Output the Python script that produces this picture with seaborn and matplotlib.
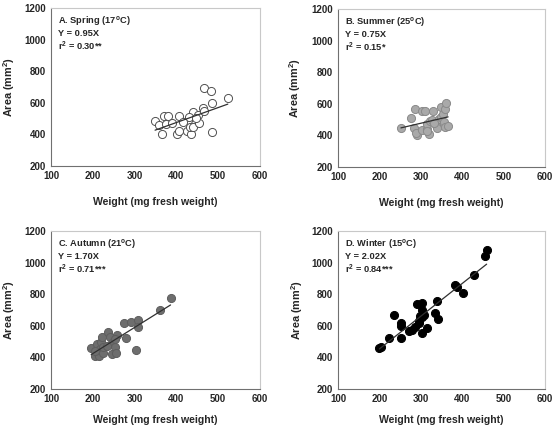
import numpy as np
import seaborn as sns
import matplotlib.pyplot as plt

# leaf weight (mg fresh weight) vs area (mm2), one season per panel
spring_w = [349, 359, 366, 371, 379, 374, 389, 407, 401, 406, 425, 427, 440, 435,
            433, 440, 430, 454, 452, 463, 466, 465, 483, 486, 485, 523, 416, 447]
spring_a = [485, 460, 401, 517, 519, 464, 475, 519, 401, 422, 422, 492, 540, 401,
            445, 449, 513, 470, 523, 570, 549, 693, 676, 597, 418, 629, 480, 505]

summer_w = [252, 276, 285, 283, 290, 288, 302, 311, 302, 315, 320, 314, 322, 328,
            329, 337, 344, 339, 348, 349, 353, 355, 358, 361, 359, 366, 314, 333]
summer_a = [449, 513, 570, 449, 405, 416, 553, 553, 433, 443, 411, 475, 490, 496,
            555, 468, 502, 447, 517, 580, 538, 485, 564, 606, 454, 462, 426, 480]

autumn_w = [196, 205, 209, 213, 217, 220, 222, 216, 225, 225, 237, 241, 247, 246,
            253, 256, 259, 252, 274, 279, 291, 304, 307, 308, 360, 386, 233, 205]
autumn_a = [459, 408, 483, 425, 453, 495, 526, 406, 429, 463, 558, 531, 488, 419,
            467, 431, 543, 514, 619, 524, 621, 450, 636, 594, 703, 779, 474, 440]

winter_w = [200, 203, 224, 236, 251, 253, 253, 271, 278, 287, 291, 297, 295, 296,
            302, 302, 303, 304, 308, 314, 335, 339, 342, 383, 387, 402, 428, 456, 459]
winter_a = [457, 463, 520, 667, 619, 598, 524, 568, 575, 594, 739, 663, 632, 617,
            653, 552, 743, 701, 669, 589, 680, 760, 642, 857, 846, 808, 922, 1042, 1080]

titles = ["A. Spring (17$^{o}$C)\nY = 0.95X\nr$^{2}$ = 0.30**",
          "B. Summer (25$^{o}$C)\nY = 0.75X\nr$^{2}$ = 0.15*",
          "C. Autumn (21$^{o}$C)\nY = 1.70X\nr$^{2}$ = 0.71***",
          "D. Winter (15$^{o}$C)\nY = 2.02X\nr$^{2}$ = 0.84***"]

sns.set_style("white")
plt.rcParams['font.family'] = ['Liberation Sans', 'DejaVu Sans']
plt.rcParams['font.weight'] = 'bold'
plt.rcParams['mathtext.fontset'] = 'custom'
plt.rcParams['mathtext.rm'] = 'Liberation Sans:bold'
plt.rcParams['mathtext.bf'] = 'Liberation Sans:bold'
plt.rcParams['mathtext.default'] = 'rm'

fig = plt.figure(figsize=(5.55, 4.32), dpi=100)

panels = [
    (spring_w, spring_a, 'white', '#505050', [51, 8, 260, 166], -0.163, -0.196),
    (summer_w, summer_a, '#a9a9a9', '#8a8a8a', [338, 9, 545, 167], -0.17, -0.196),
    (autumn_w, autumn_a, '#6e6e6e', '#5e5e5e', [51, 231, 260, 389], -0.163, -0.165),
    (winter_w, winter_a, 'black', 'black', [338, 231, 545, 389], -0.16, -0.165),
]

for (w, a, fc, ec, box, ylx, xly), title in zip(panels, titles):
    l, t, r, b = box
    ax = fig.add_axes([l / 555, 1 - b / 432, (r - l) / 555, (b - t) / 432])
    sns.regplot(x=np.array(w), y=np.array(a), ax=ax, ci=None,
                scatter_kws=dict(s=34, facecolor=fc, edgecolor=ec, linewidths=0.7, alpha=1),
                line_kws=dict(color='#303030', lw=0.9))
    ax.set_xlim(100, 600)
    ax.set_ylim(200, 1200)
    ax.set_xticks([100, 200, 300, 400, 500, 600])
    ax.set_yticks([200, 400, 600, 800, 1000, 1200])
    ax.tick_params(labelsize=7, length=2, width=0.6, color='#707070', pad=1.5)
    for lab in ax.get_xticklabels() + ax.get_yticklabels():
        lab.set_fontweight('bold')
    ax.spines['left'].set_color('#707070')
    ax.spines['bottom'].set_color('#707070')
    ax.spines['top'].set_color('#c8c8c8')
    ax.spines['right'].set_color('#c8c8c8')
    for s in ax.spines.values():
        s.set_linewidth(0.8)
    ax.set_xlabel('Weight (mg fresh weight)', fontsize=7.6, fontweight='bold')
    ax.set_ylabel('Area (mm$^{2}$)', fontsize=7.8, fontweight='bold')
    ax.yaxis.set_label_coords(ylx, 0.5)
    ax.xaxis.set_label_coords(0.5, xly)
    ax.text(0.035, 0.965, title, transform=ax.transAxes, ha='left', va='top',
            fontsize=6.7, fontweight='bold', linespacing=1.2)

fig.savefig('out.png', dpi=100)
